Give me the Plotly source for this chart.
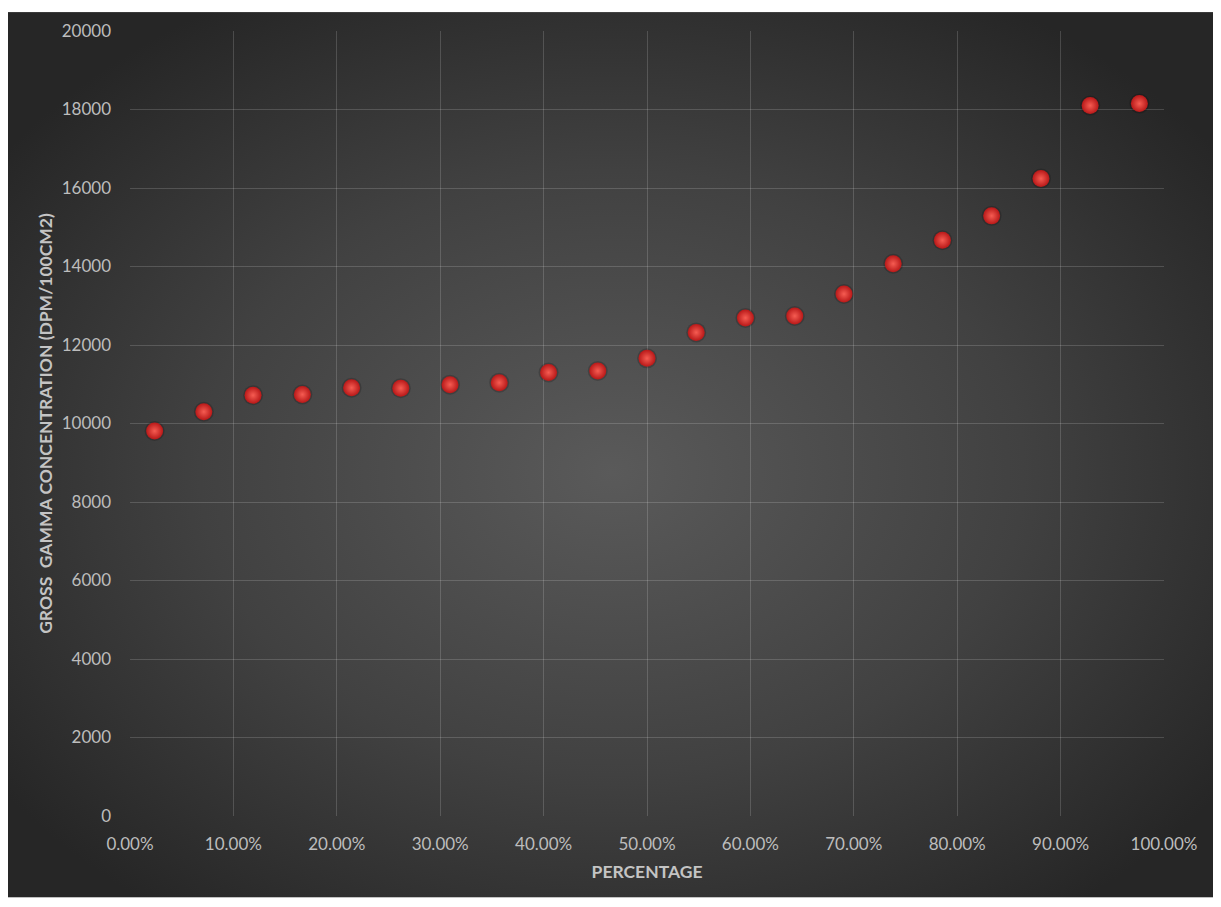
import base64
import plotly.graph_objects as go

# Data
percentage = [0.0238, 0.0714, 0.1190, 0.1667, 0.2143, 0.2619, 0.3095, 0.3571,
              0.4048, 0.4524, 0.5000, 0.5476, 0.5952, 0.6429, 0.6905, 0.7381,
              0.7857, 0.8333, 0.8810, 0.9286, 0.9762]
gross_gamma = [9810, 10300, 10720, 10740, 10910, 10900, 10990, 11040,
               11300, 11340, 11660, 12320, 12690, 12740, 13300, 14070,
               14670, 15290, 16240, 18100, 18150]

x_ticks = [0, 0.1, 0.2, 0.3, 0.4, 0.5, 0.6, 0.7, 0.8, 0.9, 1.0]
y_ticks = [0, 2000, 4000, 6000, 8000, 10000, 12000, 14000, 16000, 18000, 20000]

# page has an 8px body margin; compensate so the plot area lands where the reference has it
W, H = 1221, 907
L, R, T, B = 122, 65, 19, 99
pw, ph = W - L - R, H - T - B
bw, bh = 1208, 890
svg = (
    f"<svg xmlns='http://www.w3.org/2000/svg' width='{bw}' height='{bh}' "
    f"preserveAspectRatio='none'>"
    "<defs><radialGradient id='g' cx='50%' cy='52%' r='62%'>"
    "<stop offset='0' stop-color='#5a5a5a'/>"
    "<stop offset='0.55' stop-color='#414141'/>"
    "<stop offset='1' stop-color='#262626'/>"
    "</radialGradient></defs>"
    "<rect width='100%' height='100%' fill='url(#g)'/></svg>"
)
src = "data:image/svg+xml;base64," + base64.b64encode(svg.encode()).decode()

fig = go.Figure()

# soft shadow under spheres
fig.add_trace(go.Scatter(
    x=percentage, y=gross_gamma, mode="markers", hoverinfo="skip",
    marker=dict(size=20, color="rgba(0,0,0,0.18)", line=dict(width=0)),
    showlegend=False,
))
# red spheres
fig.add_trace(go.Scatter(
    x=percentage, y=gross_gamma, mode="markers",
    marker=dict(size=17, color="#b81818",
                gradient=dict(type="radial", color="#f65c52"),
                line=dict(width=0)),
    showlegend=False,
))

tick_font = dict(family="Lato, 'Open Sans', sans-serif", size=17, color="#bdbdbd")
title_font = dict(family="Lato, 'Open Sans', sans-serif", size=17.5, color="#c4c4c4")

fig.update_layout(
    width=W, height=H,
    margin=dict(l=L, r=R, t=T, b=B),
    paper_bgcolor="white",
    plot_bgcolor="rgba(0,0,0,0)",
    images=[dict(
        source=src, xref="paper", yref="paper",
        x=(0 - L) / pw, y=(H - B) / ph,
        sizex=bw / pw, sizey=bh / ph,
        xanchor="left", yanchor="top", sizing="stretch", layer="below",
    )],
    xaxis=dict(
        range=[0, 1], tickvals=x_ticks, tickformat=".2%",
        showgrid=True, gridcolor="rgba(255,255,255,0.16)", gridwidth=1,
        zeroline=False, showline=False, ticks="",
        tickfont=tick_font, ticklabelstandoff=16,
        title=dict(text="<b>PERCENTAGE</b>", font=title_font, standoff=12),
    ),
    yaxis=dict(
        range=[0, 20000], tickvals=y_ticks, tickformat="d",
        showgrid=True, gridcolor="rgba(255,255,255,0.16)", gridwidth=1,
        zeroline=False, showline=False, ticks="",
        tickfont=tick_font, ticklabelstandoff=18,
        title=dict(text="<b>GROSS\u00a0 GAMMA CONCENTRATION (DPM/100CM2)</b>",
                   font=title_font, standoff=4),
    ),
)

fig.write_html("out.html")
